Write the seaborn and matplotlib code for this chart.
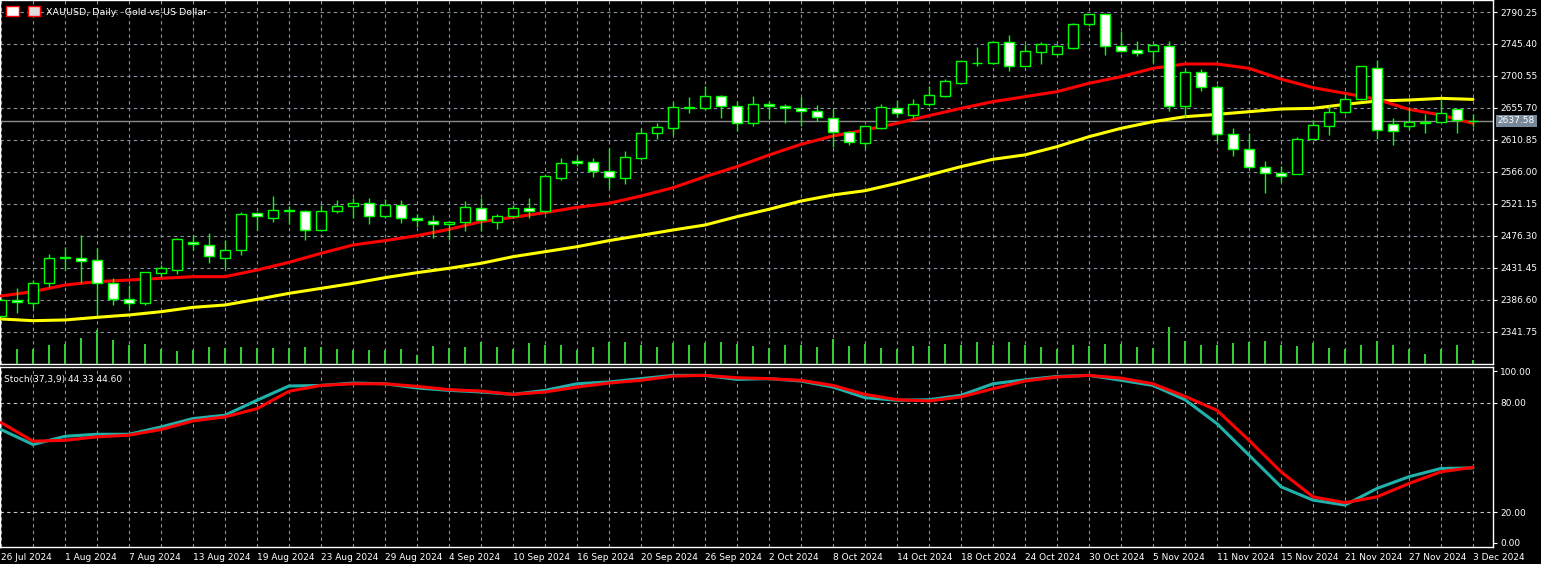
import numpy as np
import pandas as pd
import seaborn as sns
import matplotlib
matplotlib.use("Agg")
from matplotlib import pyplot as plt
from matplotlib.patches import Rectangle

# daily candles, XAUUSD 26 Jul - 3 Dec 2024
opens = [2364, 2387, 2382, 2410, 2447, 2445, 2442, 2410, 2388, 2382, 2425, 2429, 2468.5, 2464, 2446, 2457,
         2508, 2502, 2512, 2511, 2485, 2511, 2518, 2523, 2504, 2520, 2502, 2498, 2493, 2496, 2515, 2496,
         2505, 2515, 2511, 2557, 2582, 2580, 2568, 2557, 2585, 2620, 2627, 2656, 2656, 2672, 2658, 2634,
         2662, 2659, 2655, 2651, 2641, 2622, 2606, 2628, 2655, 2646, 2662, 2673, 2691, 2719, 2719, 2748,
         2714, 2734, 2732, 2740, 2773, 2787, 2743, 2737, 2735, 2742, 2658, 2706, 2685, 2619, 2598, 2573,
         2565, 2563, 2612, 2631, 2650, 2669, 2712, 2633, 2631, 2635, 2636, 2654, 2638]
closes = [2387, 2384, 2410, 2446, 2446, 2441, 2410, 2388, 2382, 2426, 2431, 2472, 2465, 2448, 2456, 2507,
          2504, 2513, 2512, 2485, 2511, 2518, 2523, 2504, 2520, 2502, 2499, 2493, 2496, 2517, 2499, 2505,
          2516, 2511, 2560, 2578, 2578, 2568, 2559, 2587, 2621, 2629, 2657, 2656, 2672, 2658, 2634, 2662,
          2658, 2655, 2652, 2643, 2622, 2608, 2630, 2657, 2648, 2662, 2674, 2693, 2721, 2719, 2748, 2715,
          2736, 2746, 2743, 2774, 2787, 2743, 2735, 2733, 2744, 2658, 2706, 2685, 2619, 2598, 2573, 2564,
          2561, 2612, 2632, 2650, 2669, 2714, 2625, 2624, 2636, 2635, 2649, 2639, 2637.58]
highs = [2390, 2403, 2415, 2451, 2461, 2477, 2460, 2418, 2407, 2426, 2436, 2473, 2477, 2480, 2471, 2510,
         2510, 2532, 2519, 2513, 2520, 2527, 2529, 2529, 2528, 2527, 2507, 2506, 2497, 2525, 2529, 2507,
         2520, 2529, 2562, 2585, 2589, 2586, 2599, 2595, 2627, 2634, 2664, 2671, 2687, 2674, 2665, 2672,
         2665, 2662, 2671, 2660, 2654, 2623, 2631, 2661, 2667, 2668, 2687, 2696, 2723, 2741, 2749, 2758,
         2746, 2748, 2746, 2775, 2788, 2789, 2764, 2749, 2745, 2750, 2711, 2711, 2688, 2627, 2620, 2581,
         2575, 2615, 2639, 2658, 2675, 2715, 2723, 2642, 2657, 2647, 2668, 2654, 2647]
lows = [2362, 2369, 2375, 2405, 2429, 2410, 2365, 2380, 2375, 2380, 2419, 2423, 2457, 2438, 2432, 2450,
        2485, 2496, 2493, 2470, 2484, 2508, 2501, 2493, 2501, 2494, 2489, 2473, 2471, 2484, 2484, 2486,
        2501, 2501, 2509, 2555, 2575, 2559, 2543, 2549, 2583, 2612, 2618, 2649, 2653, 2642, 2624, 2630,
        2640, 2635, 2630, 2637, 2601, 2604, 2600, 2626, 2643, 2641, 2658, 2671, 2690, 2714, 2717, 2708,
        2714, 2717, 2730, 2739, 2770, 2730, 2734, 2729, 2719, 2652, 2643, 2680, 2610, 2589, 2573, 2536,
        2552, 2563, 2612, 2618, 2648, 2667, 2612, 2604, 2626, 2620, 2636, 2621, 2629]
volumes = [0, 45, 45, 57, 60, 77, 102, 72, 57, 60, 45, 39, 42, 50, 47, 50, 47, 47, 47, 50, 50, 44, 42, 42,
           42, 44, 27, 54, 47, 50, 66, 50, 45, 62, 57, 57, 42, 50, 66, 66, 57, 50, 62, 57, 64, 66, 60, 54,
           47, 57, 57, 50, 74, 54, 60, 47, 45, 54, 54, 60, 57, 66, 57, 66, 57, 51, 45, 57, 54, 60, 60, 51,
           48, 111, 69, 57, 57, 63, 66, 69, 57, 54, 63, 48, 45, 57, 69, 57, 45, 30, 45, 57, 11]

# moving averages and stochastic, read every second bar
line_bars = list(range(0, 93, 2))
ma_red = [2392.2, 2398.3, 2407.6, 2412.3, 2414.6, 2417.0, 2419.3, 2419.3, 2428.6, 2439.4, 2452.0, 2463.7,
          2469.8, 2476.8, 2485.6, 2496.4, 2502.5, 2509.0, 2516.5, 2522.1, 2532.4, 2544.0, 2559.5, 2573.5,
          2589.8, 2604.8, 2616.5, 2624.9, 2634.2, 2645.0, 2655.2, 2664.6, 2671.6, 2678.6, 2690.3, 2699.6,
          2711.3, 2717.4, 2717.4, 2711.3, 2696.3, 2684.2, 2676.3, 2667.8, 2653.8, 2645.9, 2634.2]
ma_yellow = [2360.0, 2357.6, 2358.6, 2362.3, 2365.6, 2370.2, 2376.3, 2379.6, 2387.5, 2395.9, 2402.9, 2409.9,
             2417.9, 2424.9, 2431.0, 2438.0, 2447.3, 2454.3, 2461.3, 2469.8, 2477.2, 2484.7, 2491.7, 2503.4,
             2513.7, 2525.3, 2533.8, 2539.8, 2550.1, 2561.8, 2573.5, 2583.8, 2590.0, 2601.5, 2615.5, 2627.2,
             2636.5, 2643.5, 2646.8, 2650.5, 2654.3, 2655.2, 2660.8, 2665.5, 2666.9, 2669.2, 2667.8]
stoch_main = [65.3, 57.1, 61.6, 62.7, 62.7, 66.7, 71.3, 73.1, 81.3, 89.1, 89.4, 90.7, 90.3, 88.0, 86.7, 85.8,
              84.5, 86.7, 90.3, 91.3, 93.1, 94.9, 94.9, 92.7, 93.1, 91.8, 88.5, 82.7, 81.3, 81.6, 84.0, 90.3,
              92.5, 94.3, 94.9, 92.2, 89.4, 81.6, 68.5, 51.3, 34.0, 26.7, 24.0, 33.1, 39.5, 44.0, 44.33]
stoch_signal = [69.1, 58.9, 59.4, 61.3, 62.2, 65.3, 70.0, 72.2, 76.7, 86.2, 89.4, 90.3, 90.3, 88.9, 87.1, 86.3,
                84.5, 85.8, 88.5, 90.7, 92.2, 94.5, 94.9, 93.6, 93.1, 92.2, 89.4, 84.5, 81.6, 80.9, 83.1, 87.6,
                91.8, 94.0, 94.9, 93.4, 90.3, 83.4, 75.8, 59.4, 42.2, 28.5, 25.3, 28.5, 35.8, 42.2, 44.6]

date_labels = ["26 Jul 2024", "1 Aug 2024", "7 Aug 2024", "13 Aug 2024", "19 Aug 2024", "23 Aug 2024",
               "29 Aug 2024", "4 Sep 2024", "10 Sep 2024", "16 Sep 2024", "20 Sep 2024", "26 Sep 2024",
               "2 Oct 2024", "8 Oct 2024", "14 Oct 2024", "18 Oct 2024", "24 Oct 2024", "30 Oct 2024",
               "5 Nov 2024", "11 Nov 2024", "15 Nov 2024", "21 Nov 2024", "27 Nov 2024", "3 Dec 2024"]
date_bars = list(range(0, 93, 4))
price_ticks = [2790.25, 2745.40, 2700.55, 2655.70, 2610.85, 2566.00, 2521.15, 2476.30, 2431.45, 2386.60, 2341.75]
last_price = 2637.58

sns.set_style("dark")
plt.rcParams['font.family'] = ['DejaVu Sans']

W, H = 1541, 564
fig = plt.figure(figsize=(W / 100, H / 100), dpi=100, facecolor="black")
right = 1493
ax = fig.add_axes([0, (H - 364) / H, right / W, 364 / H])
ax2 = fig.add_axes([0, (H - 547) / H, right / W, 180 / H])

grid_col = "#8a93a2"
for a in (ax, ax2):
    a.set_facecolor("black")
    for s in a.spines.values():
        s.set_color("white")
        s.set_linewidth(1)
    a.set_xlim(-1 / 16, 1492 / 16)
    for xb in range(0, 94, 2):
        a.axvline(xb, color=grid_col, lw=0.8, ls=(0, (3, 3)), zorder=0)

# price pane
ax.set_ylim(2790.25 - 352 * 1.4016, 2790.25 + 12 * 1.4016)
for p in price_ticks:
    ax.axhline(p, color=grid_col, lw=0.8, ls=(0, (3, 3)), zorder=0)

vax = ax.twinx()
vax.set_ylim(0, 1092)
vax.bar(range(len(volumes)), volumes, width=0.13, color="#32cd32", edgecolor="none", linewidth=0, zorder=1)
vax.axis("off")

ax.axhline(last_price, color="#8c8c8c", lw=1, zorder=1)
df_ma = pd.DataFrame({"bar": line_bars, "red": ma_red, "yellow": ma_yellow})
sns.lineplot(data=df_ma, x="bar", y="yellow", ax=ax, color="#ffff00", lw=2.2, zorder=3)
sns.lineplot(data=df_ma, x="bar", y="red", ax=ax, color="#ff0000", lw=2.2, zorder=3)

for i in range(len(opens)):
    o, c, hi, lo = opens[i], closes[i], highs[i], lows[i]
    ax.vlines(i, lo, hi, color="#00ff00", lw=1, zorder=4)
    fill = "black" if c >= o else "white"
    bot, top = min(o, c), max(o, c)
    ax.add_patch(Rectangle((i - 0.31, bot), 0.62, max(top - bot, 0.4), facecolor=fill,
                           edgecolor="#00ff00", lw=1, zorder=5))
ax.set_xticks([])
ax.set_yticks(price_ticks)
ax.yaxis.tick_right()
ax.tick_params(axis="y", colors="white", labelsize=6.5, length=3, pad=2)
ax.set_yticklabels([f"{p:.2f}" for p in price_ticks])
ax.set_xlabel("")
ax.set_ylabel("")
ax.text(1.003, last_price, f"{last_price:.2f}", transform=ax.get_yaxis_transform(), color="white",
        fontsize=6.5, va="center", ha="left", zorder=6,
        bbox=dict(boxstyle="square,pad=0.2", fc="#778899", ec="none"))
ax.text(0.031, 0.967, "XAUUSD, Daily:  Gold vs US Dollar", transform=ax.transAxes, color="white",
        fontsize=6.8, va="center", ha="left")
ax.add_patch(Rectangle((0.004, 0.955), 0.009, 0.028, transform=ax.transAxes, fc="white", ec="red", lw=1))
ax.add_patch(Rectangle((0.019, 0.955), 0.008, 0.028, transform=ax.transAxes, fc="#dddddd", ec="red", lw=1))

# stochastic pane
ax2.set_ylim(20 - 34.7 / 1.8333, 80 + 35.7 / 1.8333)
for lvl in (80, 20):
    ax2.axhline(lvl, color="#c8c8c8", lw=0.8, ls=(0, (3, 3)), zorder=0)
df_st = pd.DataFrame({"bar": line_bars, "main": stoch_main, "signal": stoch_signal})
sns.lineplot(data=df_st, x="bar", y="main", ax=ax2, color="#20b2aa", lw=2.2, zorder=3)
sns.lineplot(data=df_st, x="bar", y="signal", ax=ax2, color="#ff0000", lw=2.2, zorder=4)
ax2.set_xlabel("")
ax2.set_ylabel("")
ax2.yaxis.tick_right()
ax2.set_yticks([97.1, 80, 20, 3.3])
ax2.set_yticklabels(["100.00", "80.00", "20.00", "0.00"])
ax2.tick_params(axis="y", colors="white", labelsize=6.5, length=3, pad=2)
ax2.set_xticks(date_bars)
ax2.set_xticklabels(date_labels, ha="left")
ax2.tick_params(axis="x", colors="white", labelsize=6.5, length=3, pad=1)
ax2.text(0.003, 0.93, "Stoch(37,3,9) 44.33 44.60", transform=ax2.transAxes, color="white",
         fontsize=6.5, va="center", ha="left")

fig.savefig("out.png", dpi=100, facecolor="black")
